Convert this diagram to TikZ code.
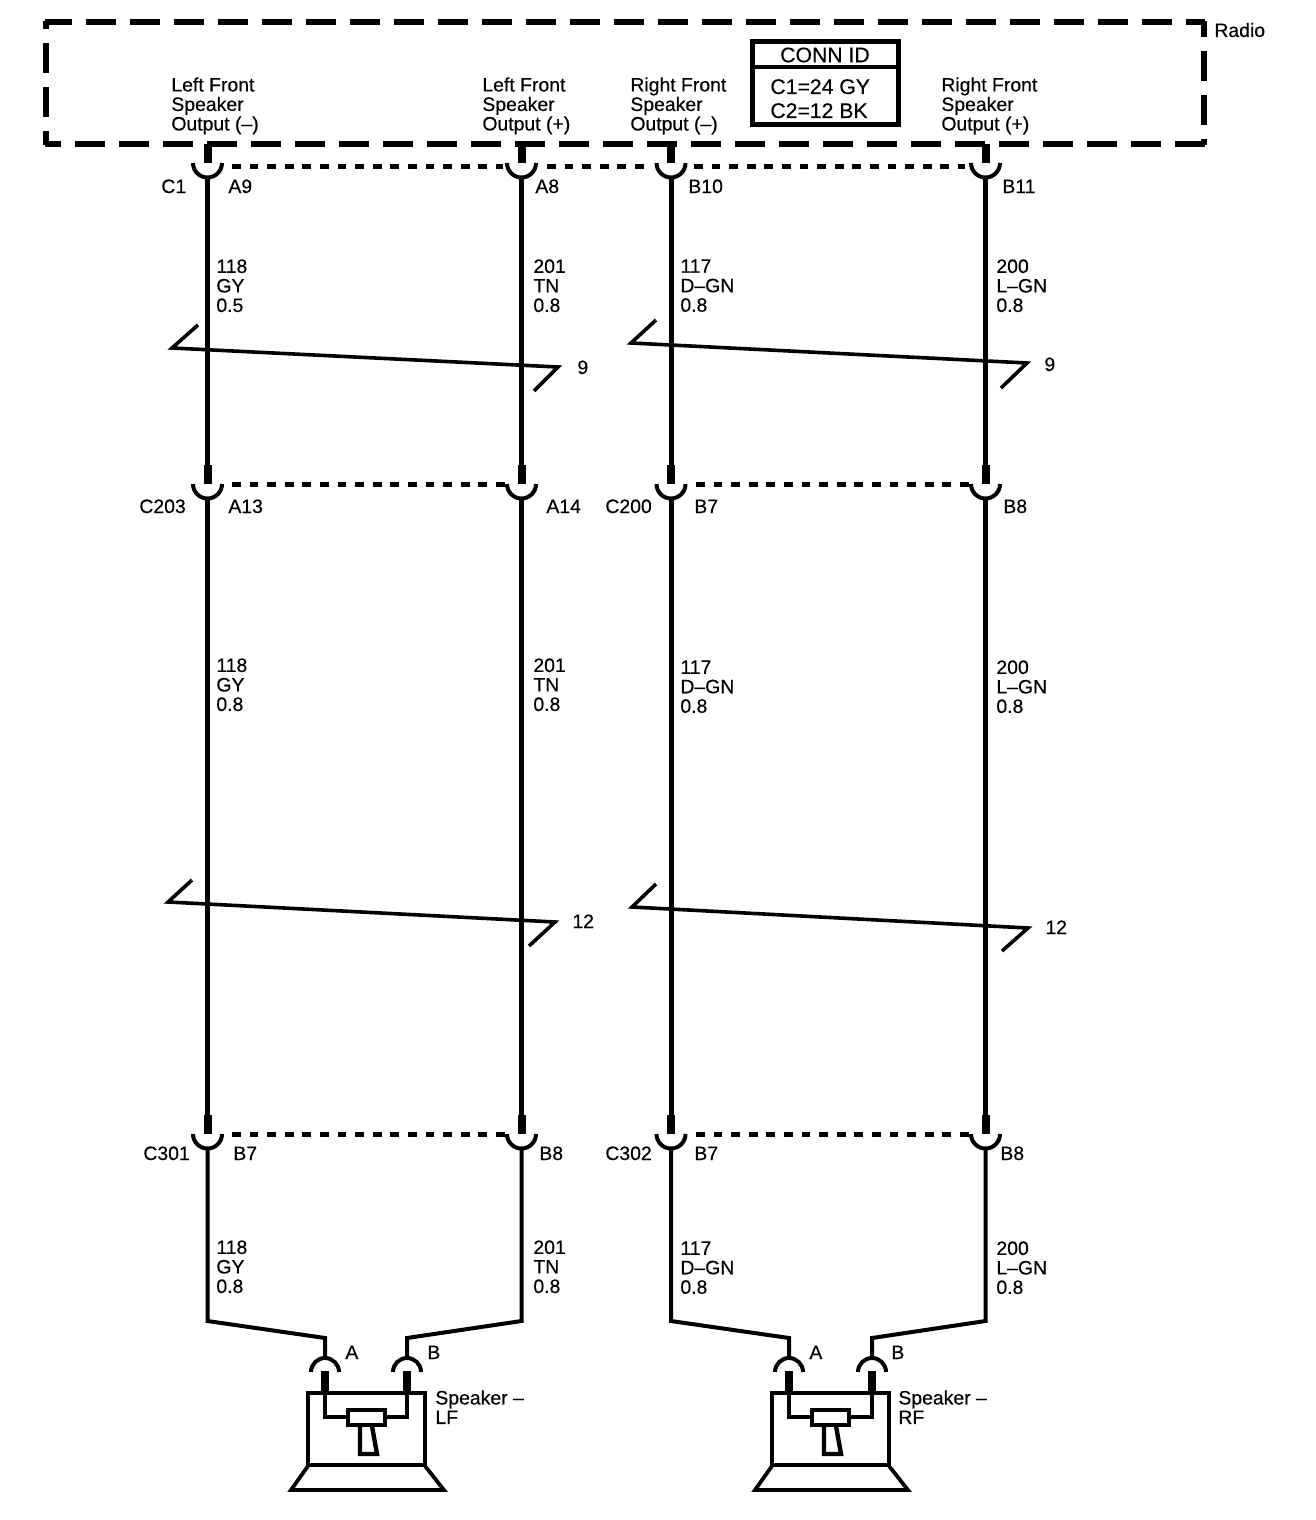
\documentclass[tikz,border=0pt]{standalone}
\usepackage{fontspec}
\setmainfont[FakeBold=0.35]{Liberation Sans}

\tikzset{
    wire/.style={line width=2.5pt},
    thinwire/.style={line width=2pt, line join=miter},
    stub/.style={line width=4pt},
    cup/.style={line width=2pt},
    shorting/.style={line width=2.5pt, dash pattern=on 4.4pt off 4.4pt},
    radioside/.style={line width=2.6pt, dash pattern=on 15pt off 7pt},
    breakline/.style={line width=1.8pt, line join=miter},
    part/.style={line width=2.2pt},
    lbl/.style={inner sep=0pt, anchor=base west, font=\fontsize{9.7}{9.75}\selectfont},
    lblblock/.style={inner sep=0pt, anchor=north west, align=left, font=\fontsize{9.7}{9.75}\selectfont},
    idtext/.style={inner sep=0pt, font=\fontsize{10.6}{12}\selectfont}
}

\def\connDown#1#2#3{ % #1 Name, #2 x, #3 y of rim
    \coordinate (#1top) at (#2,#3-19);
    \coordinate (#1rim) at (#2,#3);
    \coordinate (#1out) at (#2,#3+14);
    \draw[stub] (#1top) -- (#1rim);
    \draw[cup] (#2-14.5,#3) arc(180:0:14.5);
}
\def\speakerUnit#1#2#3{ % #1 Name, #2 Shift, #3 x shift of pin B
    \begin{scope}[shift={(#2,0)}]
        \coordinate (#1pinA) at (325,1358);
        \coordinate (#1pinB) at (407+#3,1358);
        \coordinate (#1bendA) at (325,1338);
        \coordinate (#1bendB) at (407+#3,1338);
        \draw[cup] (311,1372) arc(180:360:14); %kappe A
        \draw[cup] (393+#3,1372) arc(180:360:14); %kappe B
        \draw[line width=3.8pt] (325,1371) -- (325,1392); %stift A
        \draw[line width=3.8pt] (407+#3,1371) -- (407+#3,1392); %stift B
        \draw[part] (325,1392) -- (325,1417) -- (407+#3,1417) -- (407+#3,1392); %spule
        \draw[part] (308,1393) rectangle (425,1465); %gehaeuse
        \draw[part, fill=white] (348,1410) rectangle (385,1425); %magnet
        \draw[part] (360,1426) -- (360,1454) -- (377,1454) -- (372,1426); %stiel
        \draw[line width=1.9pt, line join=miter] (308,1466) -- (291,1490) -- (444,1490) -- (425,1466); %konus
    \end{scope}
}

\begin{document}
\begin{tikzpicture}[x=0.5pt, y=-0.5pt]
    \useasboundingbox[fill=white] (0,0) rectangle (1316,1520);

    % radio
    \draw[radioside, dash phase=1.5pt] (44.8,22) -- (1205.2,22);
    \draw[radioside, dash phase=7pt] (44.8,144) -- (1205.2,144);
    \draw[radioside, dash phase=8pt] (46,145.2) -- (46,20.8);
    \draw[radioside, dash phase=7pt] (1204,20.8) -- (1204,145.2);
    \node (radio) [lbl] at (1214,37) {Radio};

    \draw[line width=2.5pt] (752,42) rectangle (898,125); %conn id
    \draw[line width=1.6pt] (752,67) -- (898,67);
    \node (connId) [idtext] at (825,55) {CONN ID};
    \node (connGY) [idtext, anchor=base west] at (770,94) {C1=24 GY};
    \node (connBK) [idtext, anchor=base west] at (770,118) {C2=12 BK};

    \node (outLminus) [lblblock] at (171,77) {Left Front\\Speaker\\Output (–)};
    \node (outLplus) [lblblock] at (482,77) {Left Front\\Speaker\\Output (+)};
    \node (outRminus) [lblblock] at (630,77) {Right Front\\Speaker\\Output (–)};
    \node (outRplus) [lblblock] at (941,77) {Right Front\\Speaker\\Output (+)};

    % --------------------------------------------------

    \draw[shorting] (232,166) -- (503,166);
    \draw[shorting] (547,166) -- (647,166);
    \draw[shorting] (694,166) -- (965,166);
    \draw[shorting] (232,484) -- (505,484);
    \draw[shorting] (696,484) -- (970,484);
    \draw[shorting] (232,1134) -- (505,1134);
    \draw[shorting] (696,1134) -- (970,1134);

    \connDown{cOneA}{207.5}{163}
    \connDown{cOneB}{521.5}{163}
    \connDown{cOneC}{671}{163}
    \connDown{cOneD}{985.5}{163}
    \connDown{cMidA}{207.5}{484}
    \connDown{cMidB}{521.5}{484}
    \connDown{cMidC}{671}{484}
    \connDown{cMidD}{985.5}{484}
    \connDown{cLowA}{207.5}{1134}
    \connDown{cLowB}{521.5}{1134}
    \connDown{cLowC}{671}{1134}
    \connDown{cLowD}{985.5}{1134}

    \draw[wire] (cOneAout) -- (cMidAtop);
    \draw[wire] (cOneBout) -- (cMidBtop);
    \draw[wire] (cOneCout) -- (cMidCtop);
    \draw[wire] (cOneDout) -- (cMidDtop);
    \draw[wire] (cMidAout) -- (cLowAtop);
    \draw[wire] (cMidBout) -- (cLowBtop);
    \draw[wire] (cMidCout) -- (cLowCtop);
    \draw[wire] (cMidDout) -- (cLowDtop);

    % --------------------------------------------------

    \speakerUnit{spkL}{0}{0}
    \speakerUnit{spkR}{464}{1}

    \draw[thinwire] (cLowAout) -- (207.5,1321) -- (spkLbendA) -- (spkLpinA);
    \draw[thinwire] (cLowBout) -- (521.5,1321) -- (spkLbendB) -- (spkLpinB);
    \draw[thinwire] (cLowCout) -- (671,1321) -- (spkRbendA) -- (spkRpinA);
    \draw[thinwire] (cLowDout) -- (985.5,1321) -- (spkRbendB) -- (spkRpinB);

    \node (spkLa) [lbl] at (345,1359) {A};
    \node (spkLb) [lbl] at (427,1359) {B};
    \node (spkRa) [lbl] at (809,1359) {A};
    \node (spkRb) [lbl] at (891,1359) {B};
    \node (spkLname) [lblblock] at (435,1390) {Speaker –\\LF};
    \node (spkRname) [lblblock] at (898,1390) {Speaker –\\RF};

    % --------------------------------------------------

    \draw[breakline] (198,325) -- (172,348) -- (558,367) -- (534,391);
    \draw[breakline] (656,320) -- (631,343) -- (1027,363) -- (1001,388);
    \draw[breakline] (192,880) -- (168,902) -- (555,922) -- (529,946);
    \draw[breakline] (656,884) -- (632,907) -- (1028,928) -- (1002,951);
    \node (brkA) [lbl] at (577,374) {9};
    \node (brkB) [lbl] at (1044,371) {9};
    \node (brkC) [lbl] at (572,928) {12};
    \node (brkD) [lbl] at (1045,934) {12};

    % --------------------------------------------------

    \node (pinOneName) [lbl] at (161,193) {C1};
    \node (pinOneA) [lbl] at (228,193) {A9};
    \node (pinOneB) [lbl] at (535,193) {A8};
    \node (pinOneC) [lbl] at (688,193) {B10};
    \node (pinOneD) [lbl] at (1002,193) {B11};

    \node (pinMidName) [lbl] at (139,513) {C203};
    \node (pinMidA) [lbl] at (228,513) {A13};
    \node (pinMidB) [lbl] at (546,513) {A14};
    \node (pinMidNameB) [lbl] at (605,513) {C200};
    \node (pinMidC) [lbl] at (694,513) {B7};
    \node (pinMidD) [lbl] at (1003,513) {B8};

    \node (pinLowName) [lbl] at (143,1160) {C301};
    \node (pinLowA) [lbl] at (233,1160) {B7};
    \node (pinLowB) [lbl] at (539,1160) {B8};
    \node (pinLowNameB) [lbl] at (605,1160) {C302};
    \node (pinLowC) [lbl] at (694,1160) {B7};
    \node (pinLowD) [lbl] at (1000,1160) {B8};

    % --------------------------------------------------

    \node (wireOneA) [lblblock] at (216,259) {118\\GY\\0.5};
    \node (wireOneB) [lblblock] at (533,259) {201\\TN\\0.8};
    \node (wireOneC) [lblblock] at (680,259) {117\\D–GN\\0.8};
    \node (wireOneD) [lblblock] at (996,259) {200\\L–GN\\0.8};

    \node (wireMidA) [lblblock] at (216,658) {118\\GY\\0.8};
    \node (wireMidB) [lblblock] at (533,658) {201\\TN\\0.8};
    \node (wireMidC) [lblblock] at (680,660) {117\\D–GN\\0.8};
    \node (wireMidD) [lblblock] at (996,660) {200\\L–GN\\0.8};

    \node (wireLowA) [lblblock] at (216,1240) {118\\GY\\0.8};
    \node (wireLowB) [lblblock] at (533,1240) {201\\TN\\0.8};
    \node (wireLowC) [lblblock] at (680,1241) {117\\D–GN\\0.8};
    \node (wireLowD) [lblblock] at (996,1241) {200\\L–GN\\0.8};
\end{tikzpicture}
\end{document}
